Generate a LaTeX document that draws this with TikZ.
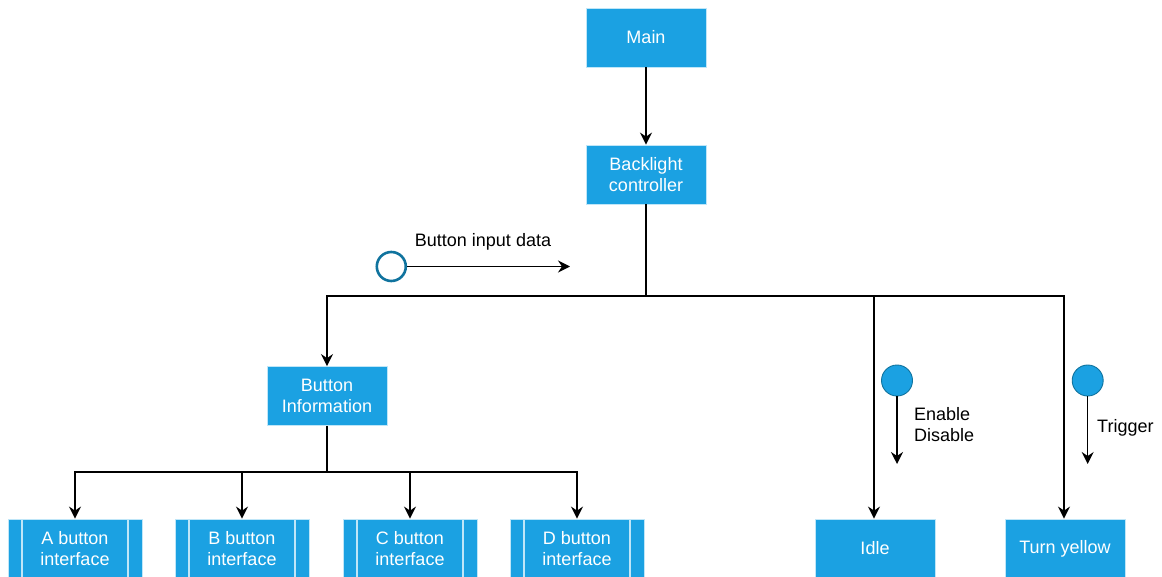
\documentclass[tikz,border=0pt]{standalone}
\usepackage{fontspec}
\setmainfont{Liberation Sans}
\usetikzlibrary{arrows.meta}
\definecolor{boxblue}{HTML}{1BA1E2}
\definecolor{boxedge}{HTML}{BFE6F8}
\definecolor{ringblue}{HTML}{10739E}
\tikzset{
  x=1pt, y=-1pt,
  blockbox/.style={rectangle, fill=boxblue, draw=boxedge, line width=0.8pt,
    minimum width=120pt, minimum height=59pt, inner sep=0pt, text=white,
    align=center, font=\fontsize{18}{21}\selectfont},
  procbox/.style={blockbox, minimum width=134pt,
    path picture={
      \draw[boxedge, line width=1.6pt]
        ([xshift=14pt]path picture bounding box.north west) -- ([xshift=14pt]path picture bounding box.south west)
        ([xshift=-14pt]path picture bounding box.north east) -- ([xshift=-14pt]path picture bounding box.south east);
    }},
  conn/.style={draw=black, line width=1.5pt, -{Stealth[length=12pt,width=12pt,inset=4pt]}},
  wire/.style={draw=black, line width=1.5pt},
  lbl/.style={font=\fontsize{18}{21}\selectfont, text=black, inner sep=0pt},
  ring/.style={circle, draw=ringblue, fill=white, line width=2.6pt, minimum size=29pt, inner sep=0pt},
  dot/.style={circle, draw=ringblue, fill=boxblue, line width=0.9pt, minimum size=31pt, inner sep=0pt},
}
\begin{document}
\begin{tikzpicture}
\useasboundingbox (0,0) rectangle (1162,577);
% boxes
\node[blockbox] (main) at (646,37.5) {Main};
\node[blockbox] (back) at (646,174.5) {Backlight\\controller};
\node[blockbox] (info) at (327,396) {Button\\Information};
\node[blockbox] (idle) at (875,548.5) {Idle};
\node[blockbox] (yellow) at (1065,548.5) {Turn yellow};
\node[procbox] (a) at (75,548.5) {A button\\interface};
\node[procbox] (b) at (242,548.5) {B button\\interface};
\node[procbox] (c) at (410,548.5) {C button\\interface};
\node[procbox] (d) at (577,548.5) {D button\\interface};
% bus junctions
\coordinate (j1) at (646,296);
\coordinate (j2) at (327,472);
% connectors
\draw[conn] (main) -- (back);
\draw[wire] (back.south) -- (j1);
\draw[conn] (j1) -| (info.north);
\draw[conn] (j1) -| ([xshift=-1pt]idle.north);
\draw[conn] (j1) -| ([xshift=-1pt]yellow.north);
\draw[wire] (info.south) -- (j2);
\draw[conn] (j2) -| (a.north);
\draw[conn] (j2) -| (b.north);
\draw[conn] (j2) -| (c.north);
\draw[conn] (j2) -| (d.north);
% button input data
\node[ring] (in) at (391.3,266.5) {};
\coordinate (inend) at (570,266.5);
\draw[conn] (in.east) -- (inend);
\node[lbl] (inlbl) at (483,241.5) {Button input data};
% enable / disable
\node[dot] (en) at (897,380.5) {};
\coordinate (enend) at (897,464);
\draw[conn] (en.south) -- (enend);
\node[lbl, align=left, anchor=west] (enlbl) at (914,424.5) {Enable\\Disable};
% trigger
\node[dot] (tr) at (1087.7,380.5) {};
\coordinate (trend) at (1087.7,464);
\draw[conn] (tr.south) -- (trend);
\node[lbl, anchor=west] (trlbl) at (1097,428) {Trigger};
\end{tikzpicture}
\end{document}
